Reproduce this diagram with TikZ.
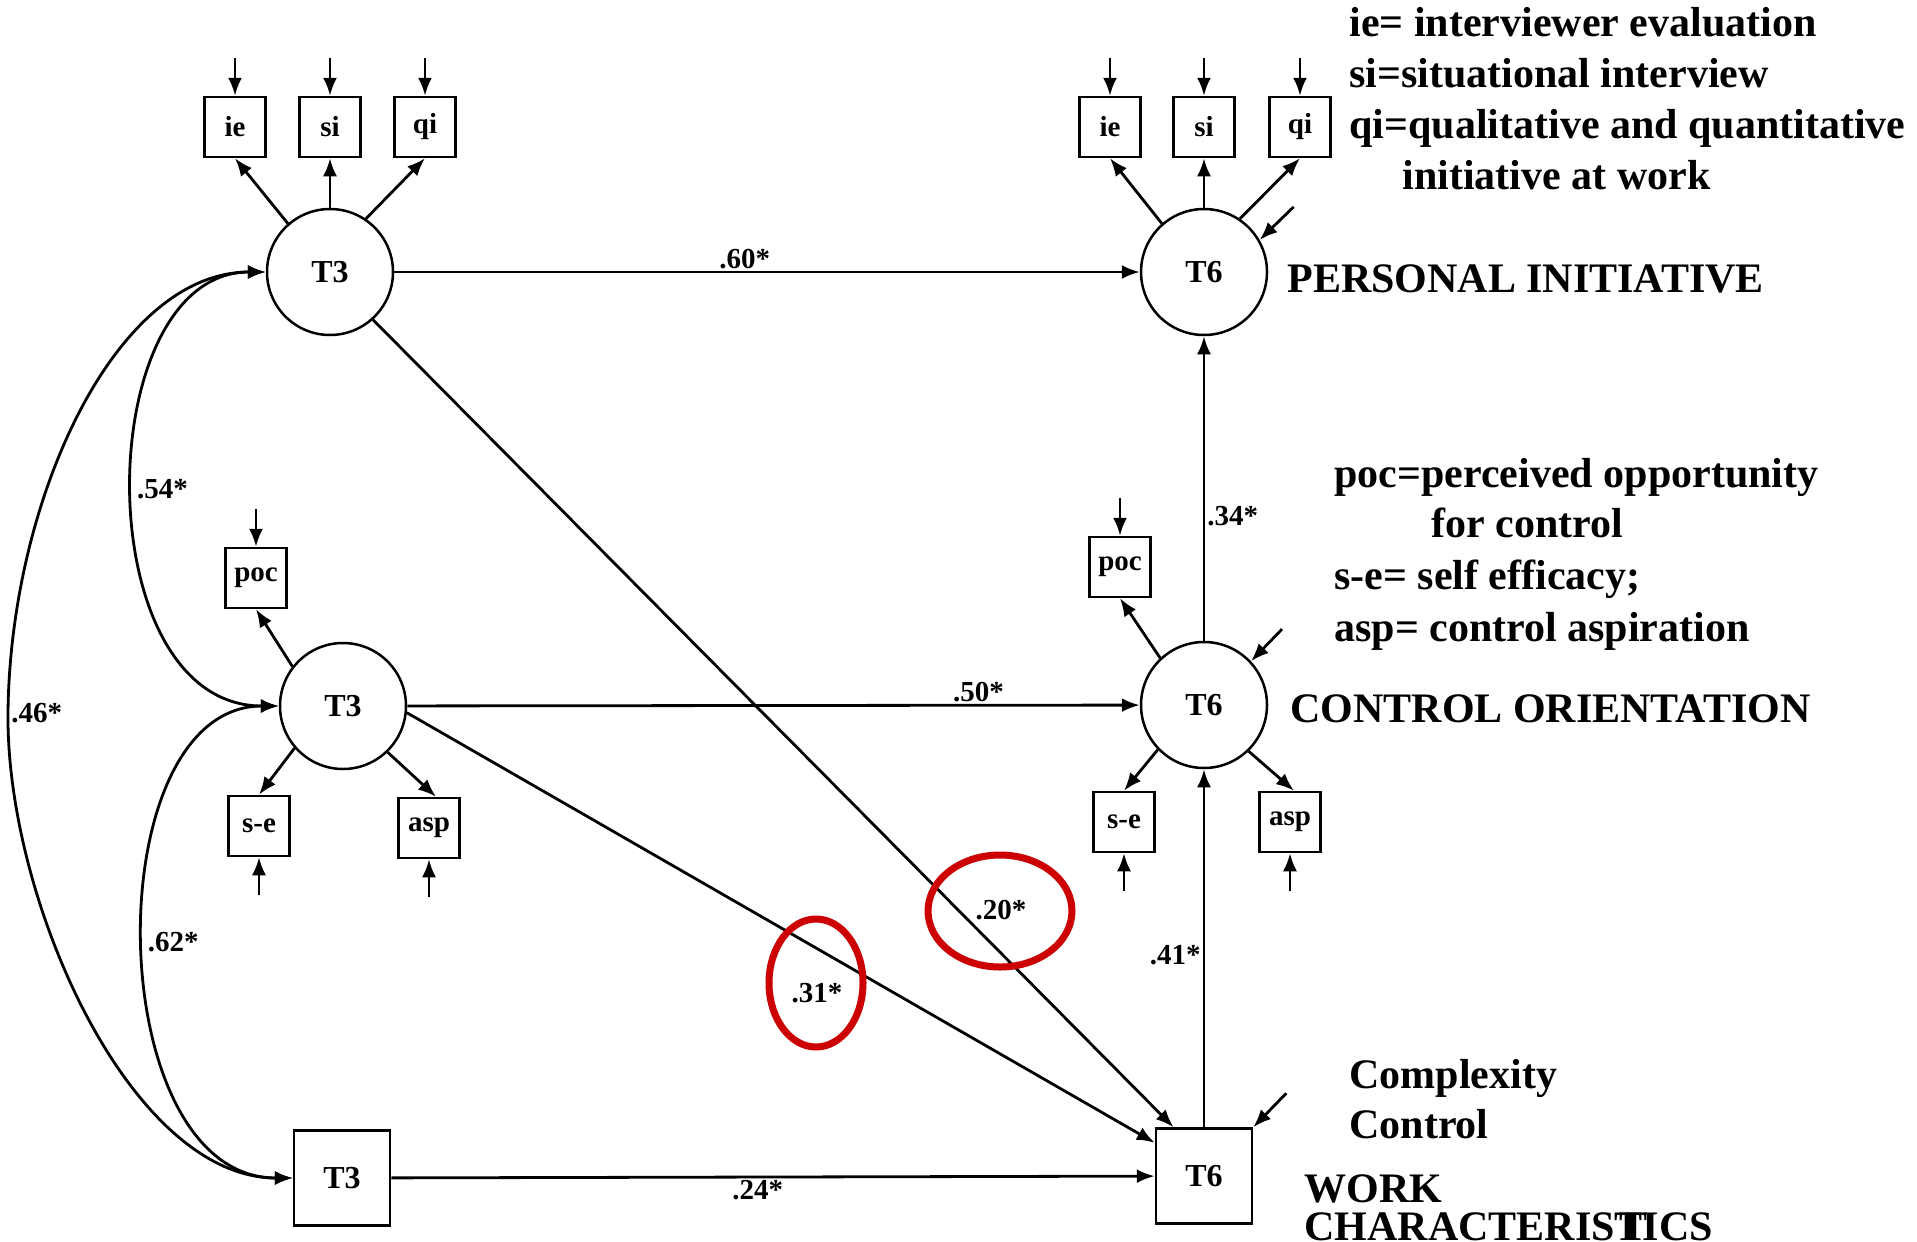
\documentclass[tikz,border=0pt]{standalone}
\usepackage{fontspec}
\setmainfont{Liberation Serif}
\usetikzlibrary{arrows.meta,positioning,calc}
\definecolor{markred}{RGB}{204,0,0}

\begin{document}
\begin{tikzpicture}[x=1pt,y=-1pt,line width=2.8pt,
    arr/.style={-{Latex[length=18pt,width=14pt]}},
    dbl/.style={{Latex[length=18pt,width=14pt]}-{Latex[length=18pt,width=14pt]}},
    lat/.style={circle,draw,line width=2.5pt,minimum size=126pt,inner sep=0pt,font=\fontsize{32}{32}\selectfont\bfseries},
    ind/.style={rectangle,draw,line width=2.5pt,minimum width=61pt,minimum height=60pt,inner sep=0pt,font=\fontsize{29}{29}\selectfont\bfseries},
    obs/.style={rectangle,draw,line width=2.5pt,minimum width=96pt,minimum height=95pt,inner sep=0pt,font=\fontsize{32}{32}\selectfont\bfseries},
    coef/.style={font=\fontsize{29}{29}\selectfont\bfseries,inner sep=2pt},
    legend/.style={font=\fontsize{42}{51}\selectfont\bfseries,inner sep=0pt,anchor=base west},
    hilite/.style={draw=markred,line width=7pt}]
\useasboundingbox (0,0) rectangle (1917,1242);

% latent and observed variables
\node[lat] (pi3) at (330,272) {T3};
\node[lat] (pi6) at (1204,272) {T6};
\node[lat] (co3) at (343,706) {T3};
\node[lat] (co6) at (1204,705) {T6};
\node[obs] (wc3) at (342,1178) {T3};
\node[obs] (wc6) at (1204,1176) {T6};

% indicators
\node[ind] (ie3) at (235,127) {ie};
\node[ind] (si3) at (330,127) {si};
\node[ind] (qi3) at (425,127) {qi};
\node[ind] (ie6) at (1110,127) {ie};
\node[ind] (si6) at (1204,127) {si};
\node[ind] (qi6) at (1300,127) {qi};
\node[ind] (poc3) at (256,578) {poc};
\node[ind] (se3) at (259,826) {s-e};
\node[ind] (asp3) at (429,828) {asp};
\node[ind] (poc6) at (1120,567) {poc};
\node[ind] (se6) at (1124,822) {s-e};
\node[ind] (asp6) at (1290,822) {asp};

\foreach \l/\b in {pi3/ie3,pi6/ie6}{
  \draw[arr] (\l.131) -- (\b.south);}
\foreach \l/\b in {pi3/si3,pi6/si6}{
  \draw[arr] (\l.north) -- (\b.south);}
\foreach \l/\b in {pi3/qi3,pi6/qi6}{
  \draw[arr] (\l.56) -- (\b.south);}
\draw[arr] (co3.142) -- (poc3.south);
\draw[arr] (co3.221) -- (se3.north);
\draw[arr] (co3.314) -- ([xshift=7pt]asp3.north);
\draw[arr] (co6.133) -- (poc6.south);
\draw[arr] (co6.224) -- (se6.north);
\draw[arr] (co6.314) -- ([xshift=4pt]asp6.north);

% error terms
\foreach \b in {ie3,si3,qi3,ie6,si6,qi6,poc3,poc6}{
  \coordinate (\b-e) at ([yshift=38pt]\b.north);
  \draw[arr] (\b-e) -- (\b.north);}
\foreach \b in {se3,asp3,se6,asp6}{
  \coordinate (\b-e) at ([yshift=-38pt]\b.south);
  \draw[arr] (\b-e) -- (\b.south);}
\coordinate (pi6-e) at ([shift={(34pt,33pt)}]pi6.30);
\coordinate (co6-e) at ([shift={(31pt,32pt)}]co6.43);
\coordinate (wc6-e) at ([shift={(33pt,34pt)}]wc6.north east);
\foreach \b/\a in {pi6/30,co6/43,wc6/north east}{
  \draw[arr] (\b-e) -- (\b.\a);}

% paths
\draw[arr] (pi3) -- node[coef,above,pos=0.47]{.60*} (pi6);
\draw[arr] (co3) -- node[coef,above,pos=0.78]{.50*} (co6);
\draw[arr] (wc3) -- node[coef,below,pos=0.48]{.24*} (wc6);
\draw[arr] (co6) -- node[coef,right,pos=0.41]{.34*} (pi6);
\draw[arr] (wc6) -- node[coef,left,pos=0.48]{.41*} (co6);
\draw[arr] (pi3.-48) -- (wc6.122);
\draw[arr] (co3.-6) -- (wc6.146);
\node[coef] (c20) at (1001,910) {.20*};
\node[coef] (c31) at (817,993) {.31*};

% correlations
\draw[dbl] (pi3.west) .. controls (90,272) and (85,706) .. node[coef,right]{.54*} (co3.west);
\draw[dbl] (co3.west) .. controls (95,706) and (100,1178) .. node[coef,right]{.62*} (wc3.west);
\draw[dbl] (pi3.west) .. controls (115,272) and (10,500) .. (8,713) node[coef,right]{.46*}
  .. controls (6,900) and (130,1178) .. (wc3.west);

% highlights
\draw[hilite] (816,983) ellipse [x radius=47pt,y radius=64pt];
\draw[hilite] (1000,911) ellipse [x radius=72pt,y radius=56pt];

% legend
\node[legend] (lg1) at (1348,36) {ie= interviewer evaluation};
\node[legend] (lg2) at (1348,87) {si=situational interview};
\node[legend] (lg3) at (1348,138) {qi=qualitative and quantitative};
\node[legend] (lg4) at (1401,189) {initiative at work};
\node[legend] (hpi) at (1286,292) {PERSONAL INITIATIVE};
\node[legend] (lg5) at (1333,487) {poc=perceived opportunity};
\node[legend] (lg6) at (1430,537) {for control};
\node[legend] (lg7) at (1333,589) {s-e= self efficacy;};
\node[legend] (lg8) at (1333,641) {asp= control aspiration};
\node[legend] (hco) at (1289,722) {CONTROL ORIENTATION};
\node[legend] (lg9) at (1348,1088) {Complexity};
\node[legend] (lg10) at (1348,1138) {Control};
\node[legend] (hwc) at (1303,1202) {WORK};
\node[legend] (hwc2) at (1303,1240) {CHARACTERIS\rlap{\kern0.12em T}TICS};
\end{tikzpicture}
\end{document}
